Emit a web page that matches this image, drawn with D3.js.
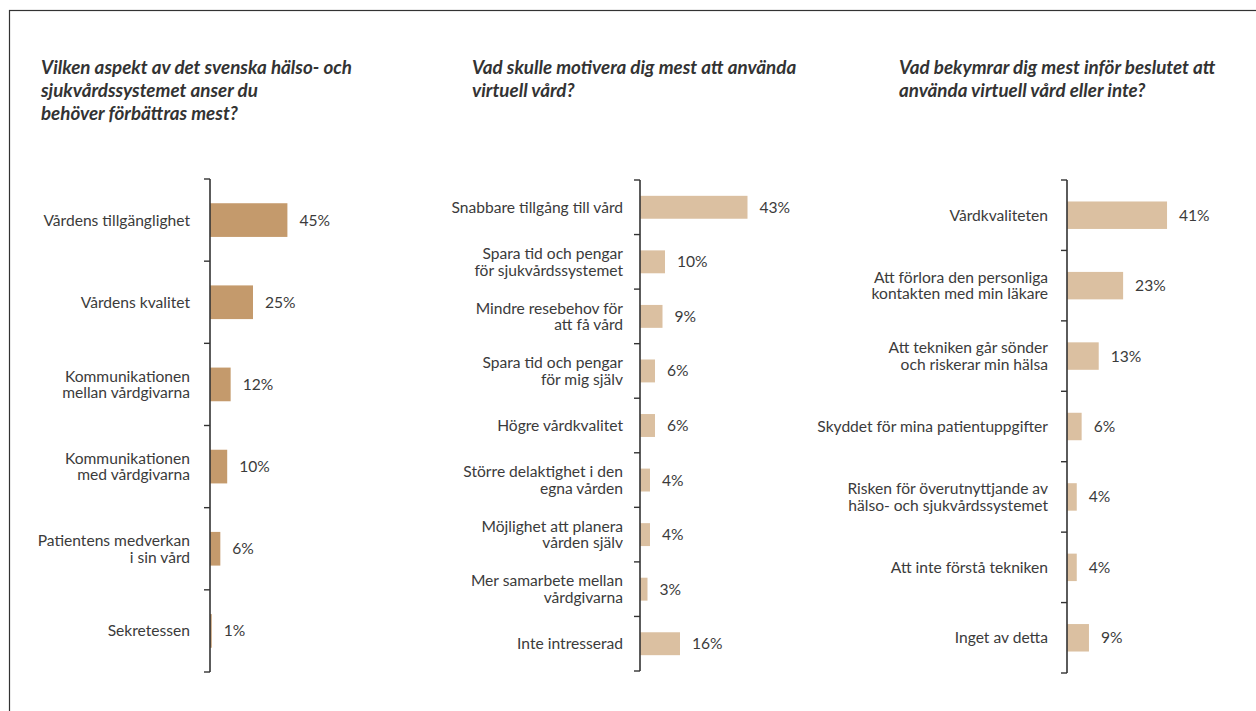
<!DOCTYPE html>
<html>
<head>
<meta charset="utf-8">
<script src="https://cdn.jsdelivr.net/npm/d3@7/dist/d3.min.js"></script>
<style>
    html, body { margin: 0; padding: 0; background: #fff; }
    svg { display: block; }
    text { font-family: Lato, 'Noto Sans', sans-serif; fill: #3b3b3b; }
    .title { font-weight: bold; font-style: italic; font-size: 18.8px; fill: #333; }
    .label, .value { font-size: 15.6px; }
</style>
</head>
<body>
<svg id="canvas" width="1256" height="711"></svg>
<script>
// question titles
var titles1 = [ 'Vilken aspekt av det svenska hälso- och', 'sjukvårdssystemet anser du', 'behöver förbättras mest?' ];
var titles2 = [ 'Vad skulle motivera dig mest att använda', 'virtuell vård?' ];
var titles3 = [ 'Vad bekymrar dig mest inför beslutet att', 'använda virtuell vård eller inte?' ];

// categories ( \n = line break )
var categories1 = [ 'Vårdens tillgänglighet', 'Vårdens kvalitet', 'Kommunikationen\nmellan vårdgivarna',
                    'Kommunikationen\nmed vårdgivarna', 'Patientens medverkan\ni sin vård', 'Sekretessen' ];
var categories2 = [ 'Snabbare tillgång till vård', 'Spara tid och pengar\nför sjukvårdssystemet', 'Mindre resebehov för\natt få vård',
                    'Spara tid och pengar\nför mig själv', 'Högre vårdkvalitet', 'Större delaktighet i den\negna vården',
                    'Möjlighet att planera\nvården själv', 'Mer samarbete mellan\nvårdgivarna', 'Inte intresserad' ];
var categories3 = [ 'Vårdkvaliteten', 'Att förlora den personliga\nkontakten med min läkare', 'Att tekniken går sönder\noch riskerar min hälsa',
                    'Skyddet för mina patientuppgifter', 'Risken för överutnyttjande av\nhälso- och sjukvårdssystemet',
                    'Att inte förstå tekniken', 'Inget av detta' ];

// percentages
var values1 = [ 45, 25, 12, 10, 6, 1 ];
var values2 = [ 43, 10, 9, 6, 6, 4, 4, 3, 16 ];
var values3 = [ 41, 23, 13, 6, 4, 4, 9 ];

var svg = d3.select( '#canvas' );

// frame
svg.append( 'rect' )
    .attr( 'x', 9.5 ).attr( 'y', 10.5 )
    .attr( 'width', 1400 ).attr( 'height', 900 )
    .attr( 'fill', 'none' )
    .attr( 'stroke', '#333' )
    .attr( 'stroke-width', 1.2 );

/** Draw one question panel */
function drawPanel( opt ) {
    var g = svg.append( 'g' );

    // title
    g.append( 'text' )
        .attr( 'class', 'title' )
        .selectAll( 'tspan' )
        .data( opt.titles )
        .join( 'tspan' )
        .attr( 'x', opt.titleX )
        .attr( 'y', function( d, i ) { return 74 + i * 23; } )
        .text( function( d ) { return d; } );

    var y = d3.scaleBand()
        .domain( opt.categories )
        .range( [ opt.top, opt.bottom ] )
        .paddingInner( opt.pad )
        .paddingOuter( opt.pad / 2 );
    var x = d3.scaleLinear()
        .domain( [ 0, 100 ] )
        .range( [ opt.axisX, opt.axisX + opt.pxPerPct * 100 ] );
    var step = y.step();

    // bars
    g.selectAll( 'rect.bar' )
        .data( opt.values )
        .join( 'rect' )
        .attr( 'class', 'bar' )
        .attr( 'x', x( 0 ) )
        .attr( 'y', function( d, i ) { return y( opt.categories[ i ] ); } )
        .attr( 'width', function( d ) { return x( d ) - x( 0 ); } )
        .attr( 'height', y.bandwidth() )
        .attr( 'fill', opt.color );

    // value labels
    g.selectAll( 'text.value' )
        .data( opt.values )
        .join( 'text' )
        .attr( 'class', 'value' )
        .attr( 'x', function( d ) { return x( d ) + 12; } )
        .attr( 'y', function( d, i ) { return y( opt.categories[ i ] ) + y.bandwidth() / 2 + 5.5; } )
        .text( function( d ) { return d + '%'; } );

    // category labels
    g.selectAll( 'text.label' )
        .data( opt.categories )
        .join( 'text' )
        .attr( 'class', 'label' )
        .attr( 'text-anchor', 'end' )
        .each( function( d ) {
            var lines = d.split( '\n' );
            var cy = y( d ) + y.bandwidth() / 2;
            d3.select( this ).selectAll( 'tspan' )
                .data( lines )
                .join( 'tspan' )
                .attr( 'x', opt.labelX )
                .attr( 'y', function( l, i ) { return cy + 5.5 + ( i - ( lines.length - 1 ) / 2 ) * 16.5; } )
                .text( function( l ) { return l; } );
        });

    // axis line with ticks at band boundaries
    var edges = opt.categories.map( function( c ) { return y( c ) - step * opt.pad / 2; } );
    edges.push( opt.bottom );
    g.append( 'line' )
        .attr( 'x1', opt.axisX ).attr( 'x2', opt.axisX )
        .attr( 'y1', opt.top ).attr( 'y2', opt.bottom )
        .attr( 'stroke', '#333' ).attr( 'stroke-width', 1.6 );
    g.selectAll( 'line.tick' )
        .data( edges )
        .join( 'line' )
        .attr( 'class', 'tick' )
        .attr( 'x1', opt.axisX - 6 ).attr( 'x2', opt.axisX )
        .attr( 'y1', function( d ) { return d; } )
        .attr( 'y2', function( d ) { return d; } )
        .attr( 'stroke', '#333' ).attr( 'stroke-width', 1.4 );
}

drawPanel({ titles: titles1, titleX: 41, categories: categories1, values: values1,
            top: 179, bottom: 672, axisX: 210, labelX: 190, pxPerPct: 1.72, pad: 0.59, color: '#c49a6c' });
drawPanel({ titles: titles2, titleX: 472, categories: categories2, values: values2,
            top: 180, bottom: 671, axisX: 640, labelX: 623, pxPerPct: 2.5, pad: 0.58, color: '#dbc0a1' });
drawPanel({ titles: titles3, titleX: 899, categories: categories3, values: values3,
            top: 180, bottom: 673, axisX: 1067, labelX: 1048, pxPerPct: 2.44, pad: 0.61, color: '#dbc0a1' });
</script>
</body>
</html>
